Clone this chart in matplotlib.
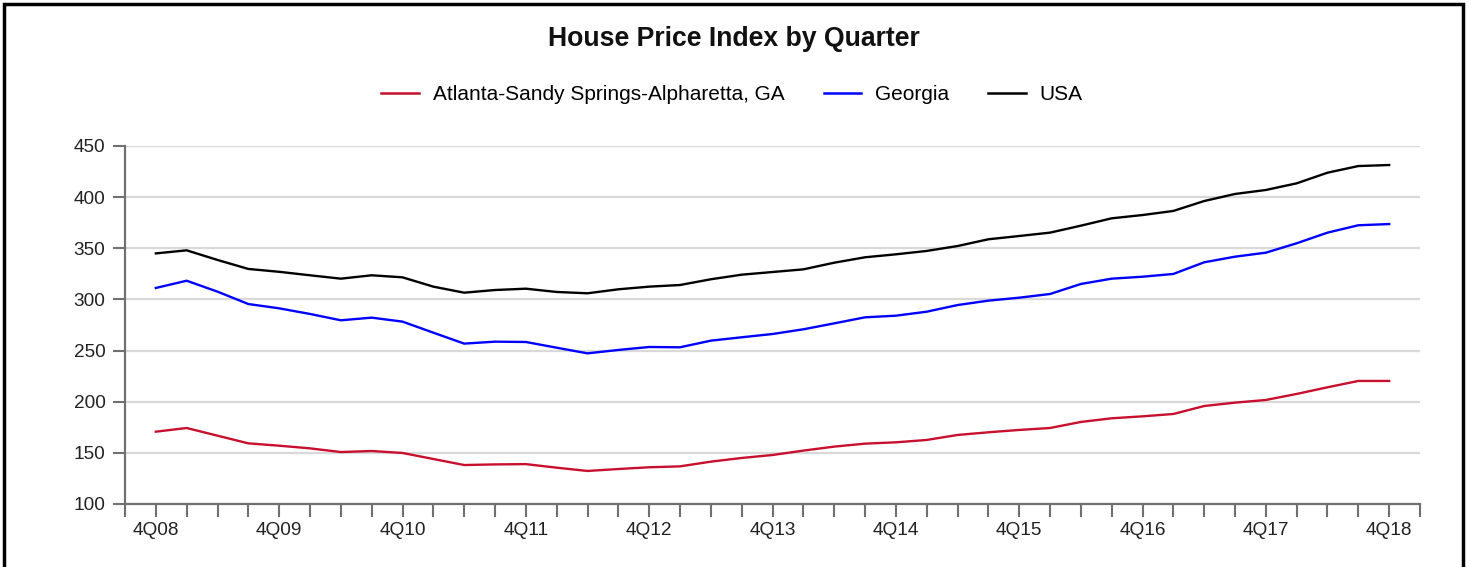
import matplotlib
matplotlib.use("Agg")
import matplotlib.pyplot as plt
from matplotlib.lines import Line2D
from matplotlib.patches import Rectangle

plt.rcParams['font.family'] = ['Liberation Sans', 'DejaVu Sans']

# Quarterly house price index, 4Q08 through 4Q18
years = [f"4Q{y:02d}" for y in range(8, 19)]

atlanta = [170.7, 174.3, 166.8, 159.3, 157.0, 154.4, 150.8, 151.8, 149.9, 144.0,
           138.1, 138.7, 139.0, 135.5, 132.3, 134.2, 135.9, 136.8, 141.4, 145.0,
           147.9, 152.2, 156.1, 159.0, 160.3, 162.6, 167.5, 170.1, 172.4, 174.3,
           180.2, 183.8, 185.7, 188.0, 195.8, 199.1, 201.7, 207.6, 214.1, 220.3,
           220.3]
georgia = [311.2, 318.3, 307.6, 295.5, 291.3, 285.8, 279.6, 282.2, 278.3, 267.5,
           256.8, 258.7, 258.4, 252.8, 247.3, 250.6, 253.5, 253.2, 259.7, 263.0,
           266.2, 270.8, 276.6, 282.5, 284.1, 288.0, 294.5, 298.8, 301.7, 305.3,
           315.1, 320.3, 322.2, 324.9, 336.3, 341.8, 345.7, 354.9, 365.3, 372.5,
           373.7]
usa = [345.0, 348.0, 338.6, 329.8, 327.0, 323.6, 320.3, 323.6, 321.6, 312.5,
       306.6, 309.2, 310.5, 307.3, 306.0, 309.9, 312.5, 314.1, 319.7, 324.2,
       326.8, 329.4, 335.9, 341.2, 344.1, 347.4, 352.2, 358.8, 362.0, 365.3,
       372.1, 379.3, 382.5, 386.5, 396.2, 403.1, 407.0, 413.5, 423.9, 430.4,
       431.4]

series_names = ["Atlanta-Sandy Springs-Alpharetta, GA", "Georgia", "USA"]
series_colors = ["#c8102e", "#0000ff", "#000000"]
y_ticks = [100, 150, 200, 250, 300, 350, 400, 450]

W, H, DPI = 1470, 567, 100
fig = plt.figure(figsize=(W / DPI, H / DPI), dpi=DPI)
fig.patch.set_facecolor("white")

# plot area in pixel coordinates
left, right, top, bottom = 125, 1420, 146, 504
ax = fig.add_axes([left / W, 1 - bottom / H, (right - left) / W, (bottom - top) / H])

x = list(range(len(usa)))
for vals, col in zip([atlanta, georgia, usa], series_colors):
    ax.plot(x, vals, color=col, lw=1.7, solid_joinstyle="round", zorder=3)

ax.set_xlim(-1, len(usa))
ax.set_ylim(100, 450)

axis_grey = "#707070"
ax.set_yticks(y_ticks)
ax.set_yticklabels([str(v) for v in y_ticks])
ax.set_xticks(list(range(-1, len(usa) + 1)))
ax.set_xticklabels(["" if (i % 4 != 0 or i < 0 or i >= len(usa)) else years[i // 4]
                    for i in range(-1, len(usa) + 1)])

ax.tick_params(axis="both", colors=axis_grey, labelcolor="#222222", labelsize=13.7,
               length=9, width=1.5, direction="out")
ax.tick_params(axis="x", pad=4)
ax.tick_params(axis="y", pad=5)

for s in ["top", "right"]:
    ax.spines[s].set_visible(False)
for s in ["left", "bottom"]:
    ax.spines[s].set_color(axis_grey)
    ax.spines[s].set_linewidth(1.6)

ax.yaxis.grid(True, color="#d9d9d9", lw=1.6, zorder=0)
ax.set_axisbelow(True)

fig.text(734 / W, 1 - 39 / H, "House Price Index by Quarter", ha="center", va="center",
         fontsize=19.2, fontweight="bold", color="#111111")

handles = [Line2D([0], [0], color=c, lw=1.8) for c in series_colors]
fig.legend(handles, series_names, loc="center", bbox_to_anchor=(732 / W, 1 - 94.5 / H),
           ncol=3, frameon=False, fontsize=15, handlelength=1.8, handletextpad=0.65,
           columnspacing=1.9)

# outer frame
fig.patches.append(Rectangle((3.5 / W, -0.05), (1463 - 3.5) / W, 1 - 3.5 / H + 0.05,
                             transform=fig.transFigure, fill=False, ec="black", lw=2.5))

fig.savefig("out.png", dpi=DPI, facecolor="white")
